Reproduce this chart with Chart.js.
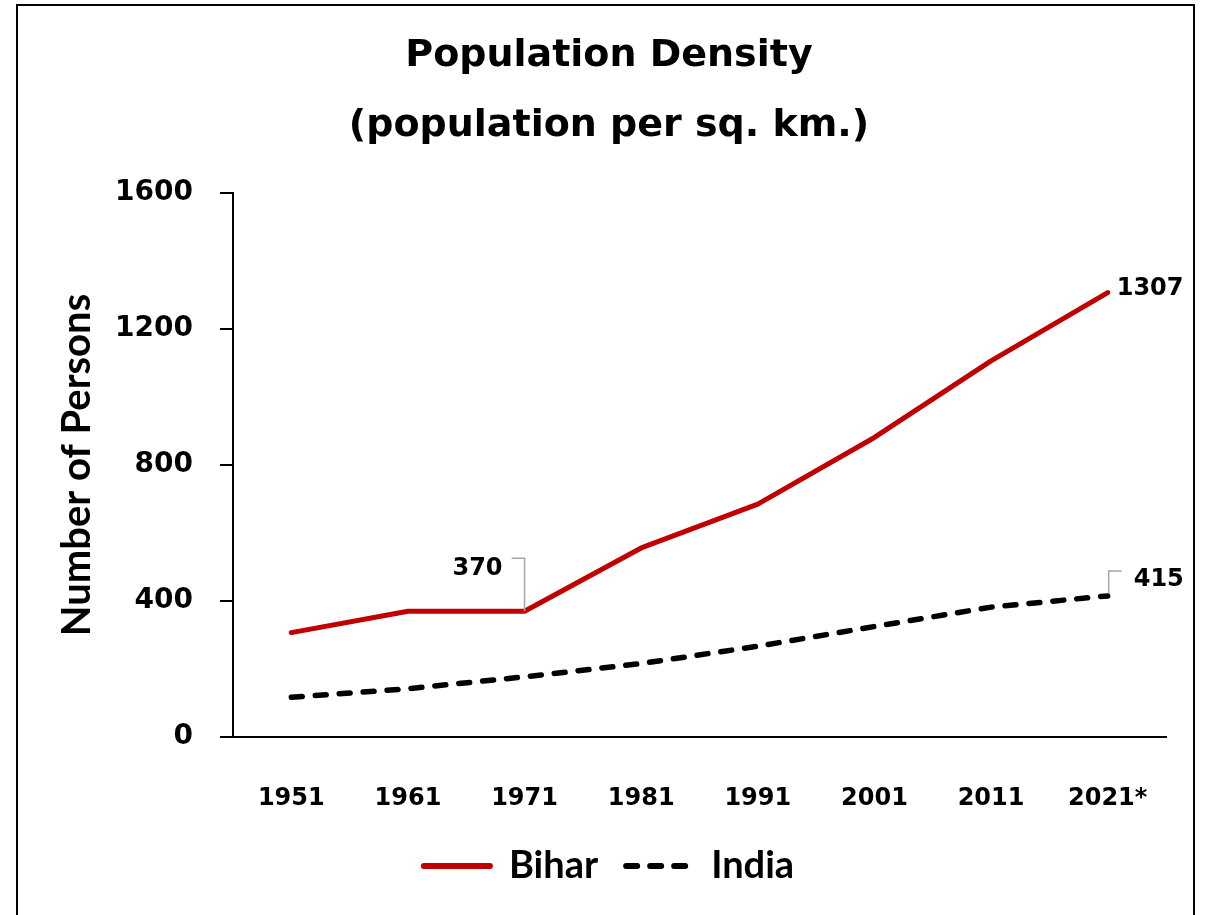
<!DOCTYPE html>
<html><head><meta charset="utf-8">
<script src="https://cdn.jsdelivr.net/npm/chart.js@4"></script>
<style>
html,body{margin:0;padding:0;background:#fff;}
#wrap{position:relative;width:1206px;height:915px;overflow:hidden;}
#frame{position:absolute;left:16px;top:4px;width:1179px;height:1000px;border:2px solid #000;box-sizing:border-box;pointer-events:none;}
canvas{display:block;}
</style></head>
<body><div id="wrap"><canvas id="c" width="1206" height="915"></canvas><div id="frame"></div></div>
<script>
const years = ['1951','1961','1971','1981','1991','2001','2011','2021*'];
const bihar = [307, 370, 370, 556, 685, 881, 1106, 1307];
const india = [117, 142, 177, 216, 267, 325, 382, 415];
const yTicks = [0, 400, 800, 1200, 1600];
const titleLines = ['Population Density', '(population per sq. km.)'];
const yTitle = 'Number of Persons';
const seriesNames = ['Bihar', 'India'];

const labelPlugin = {
  id: 'valueLabels',
  afterDatasetsDraw(chart) {
    const ctx = chart.ctx;
    const x = chart.scales.x, y = chart.scales.y;
    const pt = (ds, i) => ({px: x.getPixelForValue(i), py: y.getPixelForValue(chart.data.datasets[ds].data[i])});
    ctx.save();
    ctx.font = 'bold 24px "DejaVu Sans"';
    ctx.fillStyle = '#000';
    ctx.textBaseline = 'middle';
    ctx.strokeStyle = '#A6A6A6';
    ctx.lineWidth = 1.5;
    // 370 label (Bihar 1971)
    let p = pt(0, 2);
    ctx.beginPath();
    ctx.moveTo(p.px, p.py); ctx.lineTo(p.px, p.py - 53); ctx.lineTo(p.px - 13, p.py - 53);
    ctx.stroke();
    ctx.textAlign = 'right';
    ctx.fillText(String(bihar[2]), p.px - 22, p.py - 42);
    // 1307 label (Bihar 2021)
    p = pt(0, 7);
    ctx.textAlign = 'left';
    ctx.fillText(String(bihar[7]), p.px + 9, p.py - 4);
    // 415 label (India 2021)
    p = pt(1, 7);
    ctx.beginPath();
    ctx.moveTo(p.px + 1, p.py - 3); ctx.lineTo(p.px + 1, p.py - 25); ctx.lineTo(p.px + 14, p.py - 25);
    ctx.stroke();
    ctx.fillText(String(india[7]), p.px + 26, p.py - 16);
    ctx.restore();
  }
};

new Chart(document.getElementById('c'), {
  type: 'line',
  data: {
    labels: years,
    datasets: [
      {label: seriesNames[0], data: bihar, borderColor: '#C00000', backgroundColor: '#C00000',
       borderWidth: 5, pointRadius: 0, tension: 0, borderCapStyle: 'round', borderJoinStyle: 'round', yAxisID: 'y'},
      {label: seriesNames[1], data: india, borderColor: '#000000', backgroundColor: '#000000',
       borderWidth: 5.5, borderDash: [11, 13], pointRadius: 0, tension: 0, borderCapStyle: 'round', yAxisID: 'y'}
    ]
  },
  options: {
    responsive: false,
    devicePixelRatio: 1,
    animation: false,
    layout: {padding: {top: 0, left: 12, right: 0, bottom: 20}},
    plugins: {
      title: {
        display: true, text: titleLines, color: '#000',
        font: {family: '"DejaVu Sans"', weight: 'bold', size: 38, lineHeight: 70/38},
        padding: {top: 21, bottom: 32}
      },
      legend: {
        display: true, position: 'bottom',
        labels: {
          usePointStyle: true, pointStyle: 'line', pointStyleWidth: 66,
          padding: 28, color: '#000',
          font: {family: 'Lato', weight: 'bold', size: 38},
          generateLabels(chart) {
            const items = Chart.defaults.plugins.legend.labels.generateLabels(chart);
            items.forEach((it, i) => {
              const ds = chart.data.datasets[i];
              it.lineDash = ds.borderDash || [];
              it.lineCap = 'round';
              it.lineWidth = 6;
              it.strokeStyle = ds.borderColor;
              it.fillStyle = ds.borderColor;
              it.pointStyle = 'line';
            });
            return items;
          }
        }
      },
      tooltip: {enabled: false}
    },
    scales: {
      x: {
        offset: true,
        grid: {display: true, drawOnChartArea: false, drawTicks: false},
        border: {display: true, color: '#000', width: 2},
        ticks: {color: '#000', padding: 47, font: {family: '"DejaVu Sans"', weight: 'bold', size: 24}},
        afterFit(s) { s.height = 82; }
      },
      y: {
        min: 0, max: 1600,
        afterBuildTicks(s) { s.ticks = yTicks.map(v => ({value: v})); },
        grid: {display: true, drawOnChartArea: false, drawTicks: true, tickLength: 13, color: '#000', lineWidth: 2},
        border: {display: true, color: '#000', width: 2},
        ticks: {color: '#000', padding: 27, font: {family: '"DejaVu Sans"', weight: 'bold', size: 28},
                callback: v => String(v)},
        title: {display: true, text: yTitle, color: '#000', padding: {top: 41, bottom: 0},
                font: {family: 'Lato', weight: 'bold', size: 40}},
        afterFit(s) { s.width = 221; }
      },
      y2: {
        position: 'right', display: true,
        grid: {display: false}, border: {display: false}, ticks: {display: false},
        afterFit(s) { s.width = 40; }
      }
    }
  },
  plugins: [labelPlugin]
});
</script>
</body></html>
